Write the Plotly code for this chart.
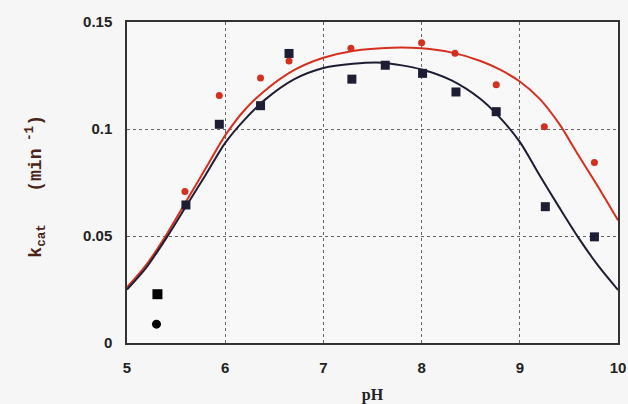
import plotly.graph_objects as go

# Measured data points (pH, kcat)
ph_red = [5.59, 5.94, 6.36, 6.65, 7.28, 8.0, 8.34, 8.76, 9.25, 9.76]
kcat_red = [0.0708, 0.1157, 0.1238, 0.1318, 0.1377, 0.1403, 0.1354, 0.1207, 0.1011, 0.0843]

ph_sq = [5.60, 5.94, 6.36, 6.65, 7.29, 7.63, 8.01, 8.35, 8.76, 9.26, 9.76]
kcat_sq = [0.0645, 0.1022, 0.1109, 0.1353, 0.1233, 0.1298, 0.1260, 0.1173, 0.1081, 0.0637, 0.0496]

# Fitted curves
ph_fit_black = [5.0, 5.2, 5.4, 5.6, 5.8, 6.0, 6.2, 6.4, 6.7, 7.0, 7.3, 7.6, 8.0, 8.3, 8.6, 8.8, 9.0, 9.2, 9.4, 9.6, 9.8, 10.0]
k_fit_black = [0.025, 0.0355, 0.049, 0.0638, 0.0785, 0.0935, 0.1045, 0.1135, 0.1232, 0.1285, 0.1305, 0.131, 0.1278, 0.1228, 0.114, 0.1052, 0.094, 0.0785, 0.0635, 0.049, 0.036, 0.0248]

ph_fit_red = [5.0, 5.2, 5.4, 5.6, 5.8, 6.0, 6.2, 6.4, 6.7, 7.0, 7.3, 7.7, 8.0, 8.3, 8.6, 8.8, 9.0, 9.2, 9.4, 9.6, 9.8, 10.0]
k_fit_red = [0.026, 0.0368, 0.0505, 0.066, 0.0815, 0.097, 0.109, 0.1178, 0.1275, 0.1333, 0.1365, 0.138, 0.1377, 0.1358, 0.1318, 0.1277, 0.1222, 0.1142, 0.1025, 0.0875, 0.0728, 0.0574]

# Legend symbols (drawn inside the plot without text)
legend_x = [5.31, 5.30]
legend_y = [0.0228, 0.0088]

x_ticks = [5, 6, 7, 8, 9, 10]
y_ticks = [0, 0.05, 0.1, 0.15]
y_tick_text = ["0", "0.05", "0.1", "0.15"]

RED = "#d4301f"
NAVY = "#1d1d33"
BG = "#f6f6f6"

fig = go.Figure()
fig.add_trace(go.Scatter(x=ph_fit_red, y=k_fit_red, mode="lines",
                         line=dict(color=RED, width=2, shape="spline", smoothing=0.8),
                         showlegend=False, hoverinfo="skip"))
fig.add_trace(go.Scatter(x=ph_fit_black, y=k_fit_black, mode="lines",
                         line=dict(color=NAVY, width=2, shape="spline", smoothing=0.8),
                         showlegend=False, hoverinfo="skip"))
fig.add_trace(go.Scatter(x=ph_red, y=kcat_red, mode="markers",
                         marker=dict(symbol="circle", size=7, color=RED),
                         showlegend=False))
fig.add_trace(go.Scatter(x=ph_sq, y=kcat_sq, mode="markers",
                         marker=dict(symbol="square", size=9, color=NAVY),
                         showlegend=False))
fig.add_trace(go.Scatter(x=[legend_x[0]], y=[legend_y[0]], mode="markers",
                         marker=dict(symbol="square", size=10, color="black"),
                         showlegend=False))
fig.add_trace(go.Scatter(x=[legend_x[1]], y=[legend_y[1]], mode="markers",
                         marker=dict(symbol="circle", size=9, color="black"),
                         showlegend=False))

tickfont = dict(family="Liberation Sans, Arial, sans-serif", size=15, color="#222", weight="bold")

fig.update_xaxes(range=[5, 10], tickvals=x_ticks, ticktext=[str(v) for v in x_ticks],
                 showgrid=True, gridcolor="#666", griddash="dot", gridwidth=1,
                 showline=True, linecolor="#333", linewidth=1.5, mirror=True,
                 zeroline=False, ticks="", tickfont=tickfont, automargin=False,
                 ticklabelstandoff=10,
                 title=dict(text="pH", font=dict(family="Liberation Serif, Times New Roman, serif",
                                                 size=16, color="#222", weight="bold"), standoff=22))
fig.update_yaxes(range=[0, 0.15], tickvals=y_ticks, ticktext=y_tick_text,
                 showgrid=True, gridcolor="#666", griddash="dot", gridwidth=1,
                 showline=True, linecolor="#333", linewidth=1.5, mirror=True,
                 zeroline=False, ticks="", tickfont=tickfont, ticklabelstandoff=10,
                 automargin=False)

fig.add_annotation(text="k<sub>cat</sub>   (min<sup> -1</sup>)", xref="paper", yref="paper",
                   x=-0.215, y=0.49, textangle=-90, showarrow=False,
                   font=dict(family="Liberation Mono, Courier New, monospace", size=18,
                             color="#4a2418", weight="bold"))

fig.update_layout(width=628, height=404,
                  margin=dict(l=127, r=10, t=22, b=61),
                  paper_bgcolor=BG, plot_bgcolor="#f8f8f8",
                  showlegend=False)

fig.write_html("out.html", config={"displayModeBar": False},
               post_script="document.body.style.margin='0';document.body.style.background='%s';" % BG)
